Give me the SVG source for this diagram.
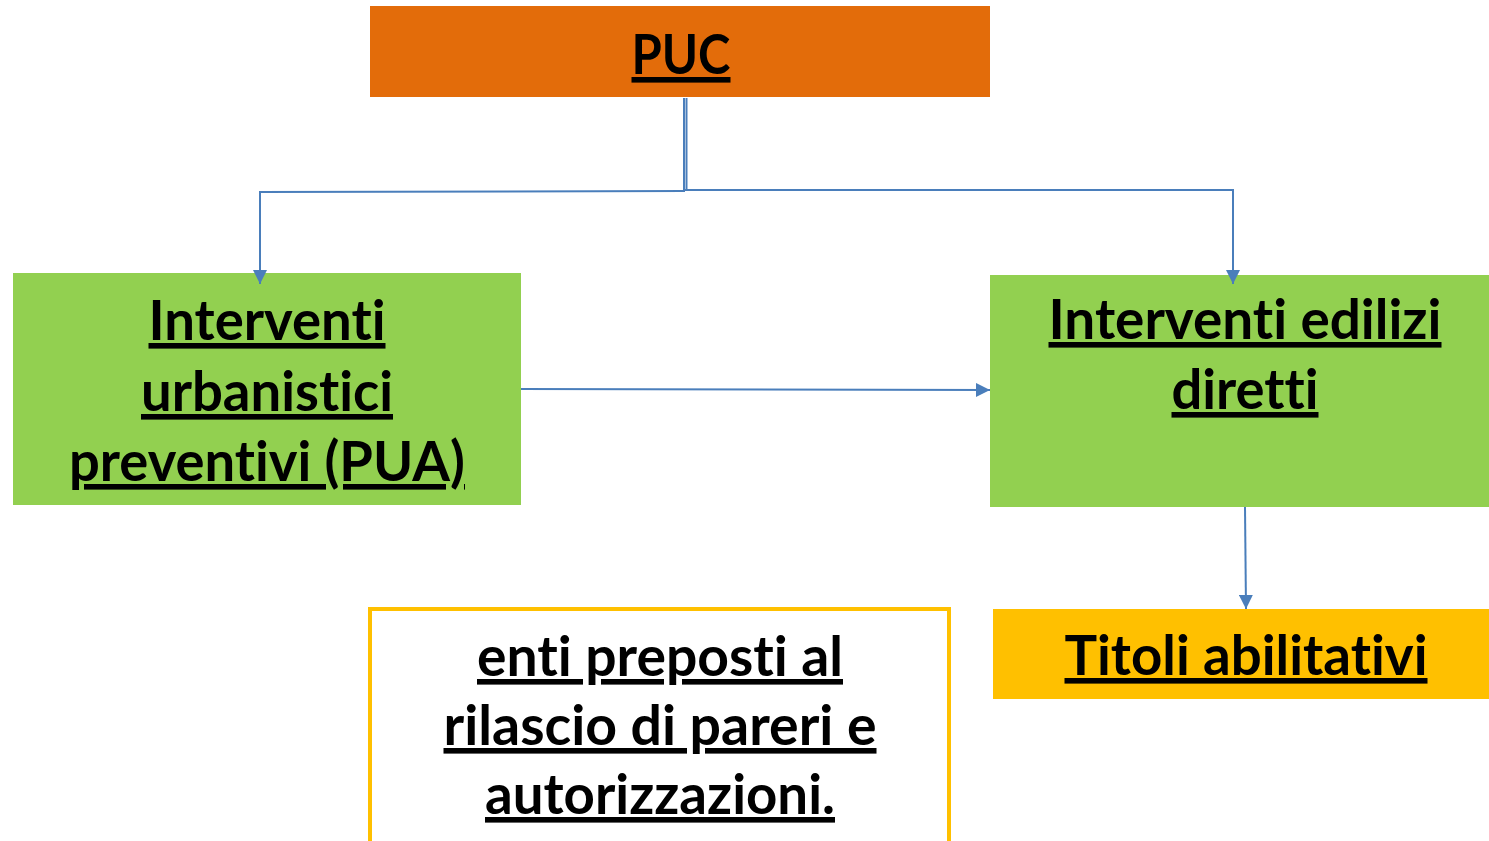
<svg xmlns="http://www.w3.org/2000/svg" width="1489" height="841" viewBox="0 0 1489 841">
  <defs>
    <marker id="arr" viewBox="0 0 10 10" refX="10" refY="5" markerWidth="14" markerHeight="14" markerUnits="userSpaceOnUse" orient="auto">
      <path d="M0,0 L10,5 L0,10 Z" fill="#4A7EBB"/>
    </marker>
    <style>
      .t { font-family: Lato, "Liberation Sans", sans-serif; font-weight: bold; font-size: 56px; fill: #000; text-anchor: middle; text-decoration: underline; font-variant-ligatures: none; font-feature-settings: "liga" 0, "clig" 0; }
      .c { stroke: #4A7EBB; stroke-width: 2; fill: none; }
    </style>
  </defs>
  <rect width="1489" height="841" fill="#FFFFFF"/>

  <g id="puc">
    <rect x="370" y="6" width="620" height="91" fill="#E36C0A"/>
    <text class="t" x="681" y="74" textLength="99" lengthAdjust="spacingAndGlyphs">PUC</text>
  </g>

  <g id="pua">
    <rect x="13" y="273" width="508" height="232" fill="#92D050"/>
    <text class="t" x="267" y="340" textLength="237" lengthAdjust="spacingAndGlyphs">Interventi</text>
    <text class="t" x="267" y="411" textLength="252" lengthAdjust="spacingAndGlyphs">urbanistici</text>
    <text class="t" x="267" y="481" textLength="396" lengthAdjust="spacingAndGlyphs">preventivi (PUA)</text>
  </g>

  <g id="diretti">
    <rect x="990" y="275" width="499" height="232" fill="#92D050"/>
    <text class="t" x="1245" y="339" textLength="393" lengthAdjust="spacingAndGlyphs">Interventi edilizi</text>
    <text class="t" x="1245" y="409" textLength="147" lengthAdjust="spacingAndGlyphs">diretti</text>
  </g>

  <g id="titoli">
    <rect x="993" y="609" width="496" height="90" fill="#FFC000"/>
    <text class="t" x="1246" y="675" textLength="363" lengthAdjust="spacingAndGlyphs">Titoli abilitativi</text>
  </g>

  <g id="enti">
    <rect x="370" y="609" width="579" height="236" fill="#FFFFFF" stroke="#FFC000" stroke-width="4"/>
    <text class="t" x="660" y="676" textLength="366" lengthAdjust="spacingAndGlyphs">enti preposti al</text>
    <text class="t" x="660" y="745" textLength="433" lengthAdjust="spacingAndGlyphs">rilascio di pareri e</text>
    <text class="t" x="660" y="814" textLength="350" lengthAdjust="spacingAndGlyphs">autorizzazioni.</text>
  </g>

  <g id="connectors">
    <line class="c" x1="684" y1="98" x2="684" y2="190" stroke-width="1.6"/>
    <line class="c" x1="686.5" y1="98" x2="686.5" y2="190" stroke-width="1.6"/>
    <polyline class="c" points="685,191 260,192 260,284" marker-end="url(#arr)"/>
    <polyline class="c" points="685,190 1233,190 1233,284" marker-end="url(#arr)"/>
    <line class="c" x1="521" y1="389" x2="990" y2="390" marker-end="url(#arr)"/>
    <line class="c" x1="1245" y1="507" x2="1246" y2="609" marker-end="url(#arr)"/>
  </g>
</svg>
